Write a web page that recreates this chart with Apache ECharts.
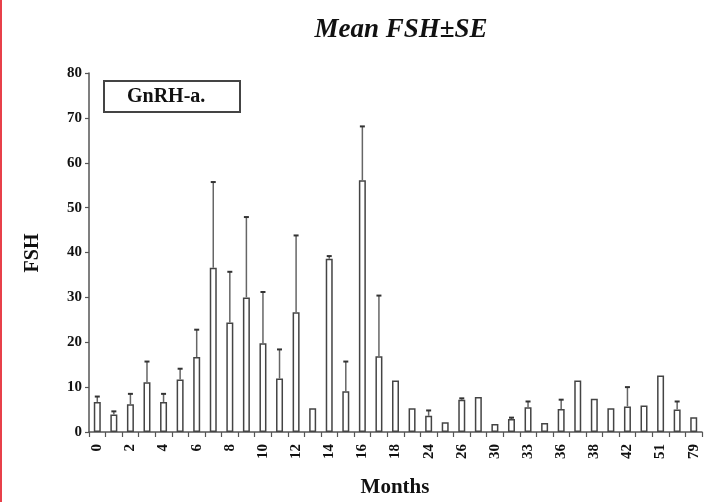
<!DOCTYPE html>
<html>
<head>
<meta charset="utf-8">
<script src="https://cdn.jsdelivr.net/npm/echarts@6/dist/echarts.min.js"></script>
<style>
html,body{margin:0;padding:0;background:#fff;}
#chart{width:708px;height:502px;}
</style>
</head>
<body>
<div id="chart"></div>
<script>
// Month categories (unreadable intermediate labels left blank)
var months = ['0','1','2','3','4','5','6','7','8','9','10','11','12','13','14','15','16','17','18',
  '','24','','26','','30','','33','','36','','38','','42','','51','','79'];
// Mean FSH per month
var meanFSH = [6.7,3.9,6.2,11.1,6.7,11.7,16.7,36.6,24.4,30.0,19.8,11.9,26.7,5.3,38.6,9.1,56.1,16.9,11.5,
  5.3,3.6,2.2,7.2,7.8,1.8,2.9,5.5,2.0,5.1,11.5,7.4,5.3,5.7,5.9,12.6,5.0,3.3];
// Standard error (upper whisker only)
var seFSH = [1.2,0.7,2.3,4.6,1.8,2.4,6.1,19.1,11.3,17.9,11.4,6.5,17.1,0,0.6,6.6,12.0,13.5,0,
  0,1.2,0,0.3,0,0,0.3,1.3,0,2.1,0,0,0,4.3,0,0,1.8,0];
var yTicks = [0,10,20,30,40,50,60,70,80];

var serif = '"Liberation Serif","Times New Roman",serif';
var errData = meanFSH.map(function(v,i){return [i, v, v + seFSH[i]];});

var chart = echarts.init(document.getElementById('chart'));
chart.setOption({
  animation:false,
  backgroundColor:'#fff',
  title:{
    text:'Mean FSH\u00b1SE', left:396, top:12, textAlign:'center',
    textStyle:{fontFamily:serif, fontStyle:'italic', fontWeight:'bold', fontSize:27, color:'#111'}
  },
  grid:{left:89, right:6, top:73, bottom:70},
  xAxis:{
    type:'category', data:months, boundaryGap:true,
    axisLine:{lineStyle:{color:'#555', width:1.5}},
    axisTick:{show:true, length:5, alignWithLabel:false, interval:0, lineStyle:{color:'#555', width:1.2}},
    axisLabel:{interval:1, rotate:90, margin:12, fontFamily:serif, fontWeight:'bold', fontSize:15, color:'#111'}
  },
  yAxis:{
    type:'value', min:yTicks[0], max:yTicks[yTicks.length-1], interval:10,
    splitLine:{show:false},
    axisLine:{show:true, lineStyle:{color:'#555', width:1.5}},
    axisTick:{show:true, length:4, lineStyle:{color:'#555', width:1.2}},
    axisLabel:{margin:7, fontFamily:serif, fontWeight:'bold', fontSize:15, color:'#111'}
  },
  graphic:[
    {type:'rect', left:0, top:0, shape:{width:2, height:502}, style:{fill:'#e8404a'}},
    {type:'rect', left:103, top:80, shape:{width:136, height:31}, style:{fill:'#fff', stroke:'#444', lineWidth:2}},
    {type:'text', left:127, top:87, style:{text:'GnRH-a.', font:'bold 20px ' + serif, fill:'#111'}},
    {type:'text', x:33, y:253, rotation:Math.PI/2, style:{text:'FSH', font:'bold 20px ' + serif, fill:'#111', textAlign:'center', textVerticalAlign:'middle'}},
    {type:'text', x:395, y:488, style:{text:'Months', font:'bold 21px ' + serif, fill:'#111', textAlign:'center', textVerticalAlign:'middle'}}
  ],
  series:[
    {
      type:'bar', data:meanFSH, barWidth:7,
      itemStyle:{color:'#fff', borderColor:'#444', borderWidth:1.5}
    },
    {
      type:'custom', data:errData, z:3,
      renderItem:function(params, api){
        var x = api.value(0);
        var lo = api.coord([x, api.value(1)]);
        var hi = api.coord([x, api.value(2)]);
        if (hi[1] >= lo[1] - 0.5) return null;
        return {type:'group', children:[
          {type:'line', shape:{x1:lo[0], y1:lo[1], x2:hi[0], y2:hi[1]}, style:{stroke:'#666', lineWidth:1.5}},
          {type:'line', shape:{x1:hi[0]-2.5, y1:hi[1], x2:hi[0]+2.5, y2:hi[1]}, style:{stroke:'#333', lineWidth:2}}
        ]};
      }
    }
  ]
});
</script>
</body>
</html>
